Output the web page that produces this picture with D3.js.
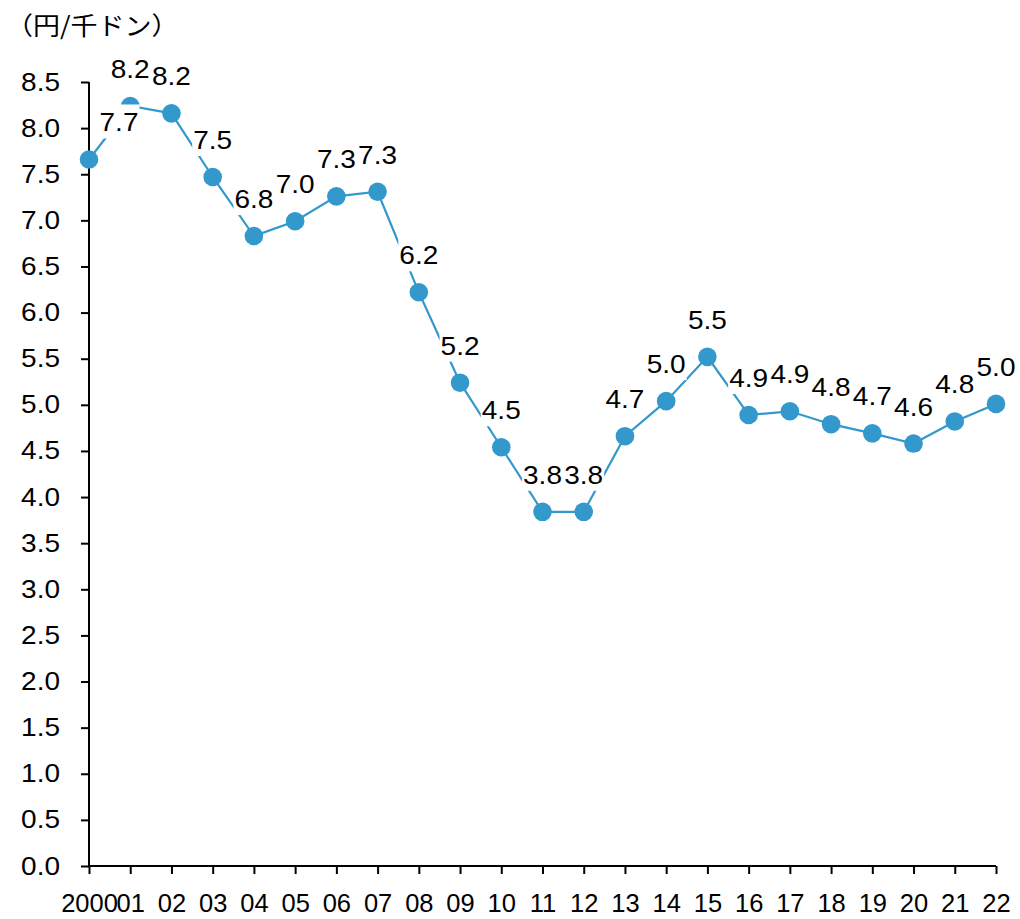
<!DOCTYPE html>
<html>
<head>
<meta charset="utf-8">
<script src="https://cdn.jsdelivr.net/npm/d3@7"></script>
<style>
  html, body { margin: 0; padding: 0; background: #fff; }
  svg { display: block; }
</style>
</head>
<body>
<svg id="chart" width="1020" height="919"></svg>
<script>
// Years (2000 shown in full, later years as two digits)
const years = ["2000", "01", "02", "03", "04", "05", "06", "07", "08", "09", "10",
               "11", "12", "13", "14", "15", "16", "17", "18", "19", "20", "21", "22"];
// Yen per thousand dong
const rates = [7.66, 8.24, 8.16, 7.47, 6.83, 6.99, 7.26, 7.31, 6.22, 5.24, 4.54,
               3.84, 3.84, 4.66, 5.04, 5.52, 4.89, 4.93, 4.79, 4.69, 4.58, 4.82, 5.01];
const yTicks = [0, 0.5, 1, 1.5, 2, 2.5, 3, 3.5, 4, 4.5, 5, 5.5, 6, 6.5, 7, 7.5, 8, 8.5];
const unitLabel = "（円/千ドン）";

const svg = d3.select("#chart");
const lineColor = "#3399cc";
const latin = "'Liberation Sans', Arial, sans-serif";
const fmt = d3.format(".1f");

// Widen glyphs horizontally by a factor, keeping the text anchor
function widen(sel, k) {
  sel.each(function () {
    const w = this.getComputedTextLength();
    d3.select(this).attr("textLength", w * k).attr("lengthAdjust", "spacingAndGlyphs");
  });
}

const x = d3.scalePoint().domain(years).range([89, 996]);
const y = d3.scaleLinear().domain([0, 8.5]).range([866, 82]);

// Y axis
const yAxis = svg.append("g")
  .attr("transform", "translate(89,0)")
  .call(d3.axisLeft(y).tickValues(yTicks).tickFormat(fmt).tickSize(8).tickPadding(21));
yAxis.select(".domain").attr("stroke", "#000").attr("stroke-width", 2)
  .attr("d", `M0,${y(8.5)}V${y(0)}`);
yAxis.selectAll(".tick line").attr("stroke", "#000").attr("stroke-width", 2);
yAxis.selectAll(".tick text")
  .style("font-family", latin).style("font-size", "25px").attr("fill", "#000")
  .call(widen, 1.12);

// X axis
const xAxis = svg.append("g")
  .attr("transform", "translate(0,866)")
  .call(d3.axisBottom(x).tickSize(8).tickPadding(20));
xAxis.select(".domain").attr("stroke", "#000").attr("stroke-width", 2)
  .attr("d", `M${x(years[0])},0H${x(years[years.length - 1])}`);
xAxis.selectAll(".tick line").attr("stroke", "#000").attr("stroke-width", 2);
xAxis.selectAll(".tick text")
  .style("font-family", latin).style("font-size", "25.5px").attr("fill", "#000");

// Unit label
svg.append("text")
  .attr("x", 6).attr("y", 35)
  .style("font-family", "'Noto Sans CJK JP', sans-serif")
  .style("font-size", "25px")
  .attr("fill", "#000")
  .text(unitLabel)
  .call(widen, 1.08);

const data = years.map((yr, i) => ({ yr, v: rates[i], i }));

// Series line
svg.append("path")
  .datum(data)
  .attr("fill", "none")
  .attr("stroke", lineColor)
  .attr("stroke-width", 2.2)
  .attr("d", d3.line().x(d => x(d.yr)).y(d => y(d.v)));

// Markers
svg.append("g").selectAll("circle")
  .data(data)
  .join("circle")
  .attr("cx", d => x(d.yr))
  .attr("cy", d => y(d.v))
  .attr("r", 9.3)
  .attr("fill", lineColor);

// Value labels on white boxes
const labels = svg.append("g");
data.forEach(d => {
  const g = labels.append("g");
  const dx = d.i === 0 ? 30 : 0;
  const t = g.append("text")
    .attr("x", x(d.yr) + dx)
    .attr("y", y(d.v) - 28)
    .attr("text-anchor", "middle")
    .style("font-family", latin)
    .style("font-size", "25px")
    .attr("fill", "#000")
    .text(fmt(d.v))
    .call(widen, 1.12);
  const b = t.node().getBBox();
  g.insert("rect", "text")
    .attr("x", b.x - 1)
    .attr("y", b.y - 4)
    .attr("width", b.width + 2)
    .attr("height", b.height + 6)
    .attr("fill", "#fff");
});
</script>
</body>
</html>
